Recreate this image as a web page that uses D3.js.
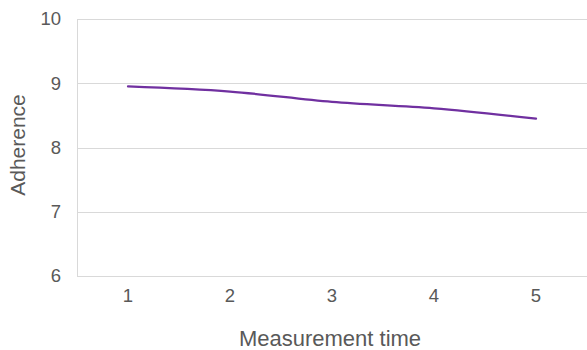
<!DOCTYPE html>
<html>
<head>
<meta charset="utf-8">
<script src="https://cdn.jsdelivr.net/npm/d3@7"></script>
<style>
  html, body { margin: 0; padding: 0; background: #fff; }
  svg { display: block; font-family: "Liberation Sans", Arial, sans-serif; }
</style>
</head>
<body>
<svg id="chart" width="587" height="350"></svg>
<script>
// Adherence score at each measurement time
const times = ["1", "2", "3", "4", "5"];
const adherence = [8.95, 8.87, 8.71, 8.61, 8.45];
const yTicks = [6, 7, 8, 9, 10];

const W = 587, H = 350;
const margin = { top: 19, right: 0, bottom: 74, left: 77 };
const svg = d3.select("#chart");

const x = d3.scaleBand()
  .domain(times)
  .range([margin.left, W - margin.right]);

const y = d3.scaleLinear()
  .domain([6, 10])
  .range([H - margin.bottom, margin.top]);

// horizontal gridlines
svg.append("g")
  .selectAll("line")
  .data(yTicks)
  .join("line")
  .attr("x1", margin.left)
  .attr("x2", W - margin.right)
  .attr("y1", d => Math.round(y(d)) + 0.5)
  .attr("y2", d => Math.round(y(d)) + 0.5)
  .attr("stroke", "#d9d9d9")
  .attr("stroke-width", 1);

// left axis line
svg.append("line")
  .attr("x1", margin.left + 0.5)
  .attr("x2", margin.left + 0.5)
  .attr("y1", y(10))
  .attr("y2", y(6))
  .attr("stroke", "#d9d9d9");

// y tick labels
const yAxis = d3.axisLeft(y)
  .tickValues(yTicks)
  .tickFormat(d3.format("d"))
  .tickSize(0)
  .tickPadding(16);
const gy = svg.append("g")
  .attr("transform", `translate(${margin.left},0)`)
  .call(yAxis);
gy.select(".domain").remove();
gy.selectAll("text")
  .attr("font-size", 18.5)
  .attr("fill", "#595959")
  .attr("font-family", "Liberation Sans, Arial, sans-serif");

// x tick labels
const xAxis = d3.axisBottom(x).tickSize(0).tickPadding(13);
const gx = svg.append("g")
  .attr("transform", `translate(0,${y(6)})`)
  .call(xAxis);
gx.select(".domain").remove();
gx.selectAll("text")
  .attr("font-size", 18.5)
  .attr("fill", "#595959")
  .attr("font-family", "Liberation Sans, Arial, sans-serif");

// data line
const line = d3.line()
  .x((d, i) => x(times[i]) + x.bandwidth() / 2)
  .y(d => y(d))
  .curve(d3.curveMonotoneX);

svg.append("path")
  .datum(adherence)
  .attr("d", line)
  .attr("fill", "none")
  .attr("stroke", "#7030a0")
  .attr("stroke-width", 2.25)
  .attr("stroke-linecap", "round");

// axis titles
svg.append("text")
  .attr("x", 330)
  .attr("y", 346)
  .attr("text-anchor", "middle")
  .attr("font-size", 22)
  .attr("fill", "#595959")
  .text("Measurement time");

svg.append("text")
  .attr("transform", "translate(25,145) rotate(-90)")
  .attr("text-anchor", "middle")
  .attr("font-size", 21)
  .attr("fill", "#595959")
  .text("Adherence");
</script>
</body>
</html>
